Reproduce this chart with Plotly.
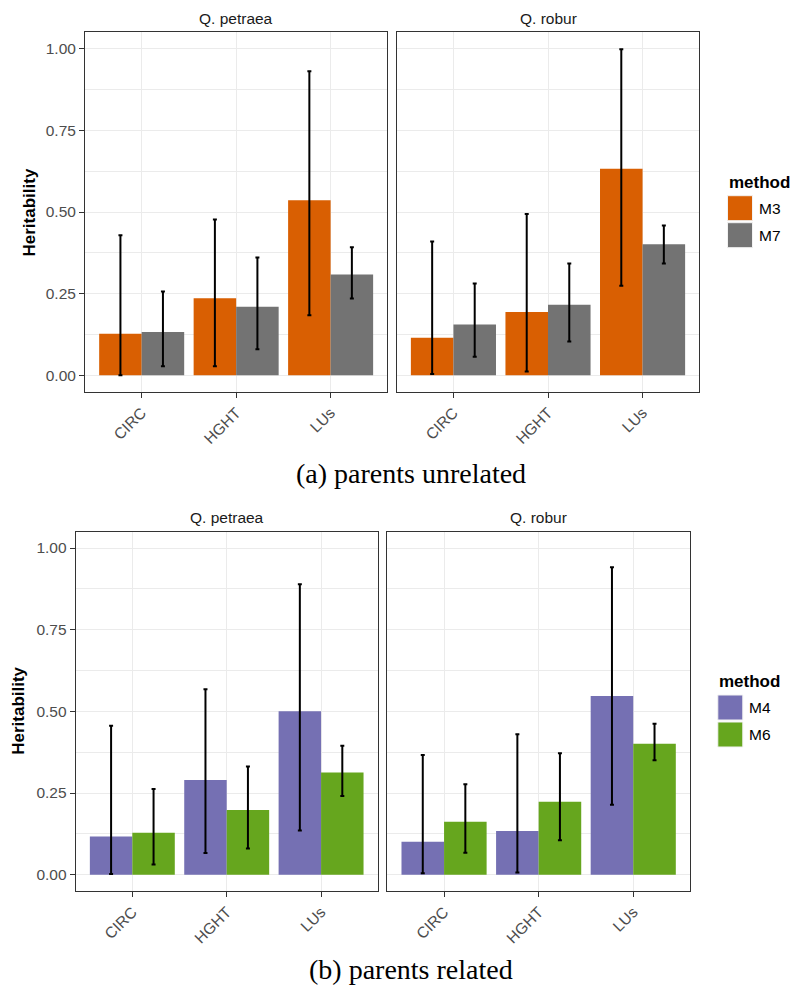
import plotly.graph_objects as go

W, H = 800, 999

categories = ["CIRC", "HGHT", "LUs"]
species = ["Q. petraea", "Q. robur"]
y_ticks = [0.0, 0.25, 0.5, 0.75, 1.0]
y_tick_labels = ["0.00", "0.25", "0.50", "0.75", "1.00"]

# (a) parents unrelated: methods M3, M7
methods_a = ["M3", "M7"]
colors_a = ["#D95F02", "#737373"]
a_petraea_M3 = [0.127, 0.236, 0.536]
a_petraea_M3_lo = [0.000, 0.028, 0.184]
a_petraea_M3_hi = [0.429, 0.477, 0.931]
a_petraea_M7 = [0.133, 0.210, 0.309]
a_petraea_M7_lo = [0.028, 0.080, 0.235]
a_petraea_M7_hi = [0.257, 0.361, 0.392]
a_robur_M3 = [0.115, 0.194, 0.632]
a_robur_M3_lo = [0.004, 0.012, 0.274]
a_robur_M3_hi = [0.410, 0.494, 0.998]
a_robur_M7 = [0.156, 0.216, 0.401]
a_robur_M7_lo = [0.057, 0.104, 0.342]
a_robur_M7_hi = [0.281, 0.342, 0.459]

# (b) parents related: methods M4, M6
methods_b = ["M4", "M6"]
colors_b = ["#7570B3", "#66A61E"]
b_petraea_M4 = [0.117, 0.290, 0.500]
b_petraea_M4_lo = [0.002, 0.066, 0.135]
b_petraea_M4_hi = [0.456, 0.568, 0.889]
b_petraea_M6 = [0.128, 0.198, 0.313]
b_petraea_M6_lo = [0.031, 0.080, 0.241]
b_petraea_M6_hi = [0.262, 0.331, 0.395]
b_robur_M4 = [0.101, 0.134, 0.547]
b_robur_M4_lo = [0.004, 0.007, 0.214]
b_robur_M4_hi = [0.366, 0.430, 0.941]
b_robur_M6 = [0.162, 0.223, 0.401]
b_robur_M6_lo = [0.067, 0.105, 0.350]
b_robur_M6_hi = [0.277, 0.372, 0.462]

captions = ["(a) parents unrelated", "(b) parents related"]


def fx(x):
    return x / W


def fy(y):
    return 1 - y / H


# panels: (x0, x1, y_top, y_bottom) in px
panels = {
    1: (85.0, 387.3, 32.3, 391.7),
    2: (396.7, 699.3, 32.3, 391.7),
    3: (75.7, 377.7, 531.7, 891.0),
    4: (387.3, 690.0, 531.7, 891.0),
}

panel_data = {
    1: [(methods_a[0], colors_a[0], a_petraea_M3, a_petraea_M3_lo, a_petraea_M3_hi),
        (methods_a[1], colors_a[1], a_petraea_M7, a_petraea_M7_lo, a_petraea_M7_hi)],
    2: [(methods_a[0], colors_a[0], a_robur_M3, a_robur_M3_lo, a_robur_M3_hi),
        (methods_a[1], colors_a[1], a_robur_M7, a_robur_M7_lo, a_robur_M7_hi)],
    3: [(methods_b[0], colors_b[0], b_petraea_M4, b_petraea_M4_lo, b_petraea_M4_hi),
        (methods_b[1], colors_b[1], b_petraea_M6, b_petraea_M6_lo, b_petraea_M6_hi)],
    4: [(methods_b[0], colors_b[0], b_robur_M4, b_robur_M4_lo, b_robur_M4_hi),
        (methods_b[1], colors_b[1], b_robur_M6, b_robur_M6_lo, b_robur_M6_hi)],
}

fig = go.Figure()
for k, series in panel_data.items():
    xa = "x" if k == 1 else f"x{k}"
    ya = "y" if k == 1 else f"y{k}"
    for i, (name, color, vals, lo, hi) in enumerate(series):
        fig.add_trace(go.Bar(
            x=categories, y=vals, name=name, marker=dict(color=color, line=dict(width=0)),
            offsetgroup=str(i),
            error_y=dict(type="data", symmetric=False,
                         array=[h - v for h, v in zip(hi, vals)],
                         arrayminus=[v - l for v, l in zip(vals, lo)],
                         color="black", thickness=2, width=2),
            xaxis=xa, yaxis=ya, showlegend=False,
        ))

tick_font = dict(family="Liberation Sans, Arial, sans-serif", size=15.5, color="#4D4D4D")
layout = dict(
    width=W, height=H, margin=dict(l=0, r=0, t=0, b=0),
    paper_bgcolor="white", plot_bgcolor="white",
    barmode="group", bargap=0.1, bargroupgap=0.0,
    font=dict(family="Liberation Sans, Arial, sans-serif"),
    showlegend=False,
)
for k, (x0, x1, y0, y1) in panels.items():
    xk = "xaxis" if k == 1 else f"xaxis{k}"
    yk = "yaxis" if k == 1 else f"yaxis{k}"
    ya_anchor = "y" if k == 1 else f"y{k}"
    xa_anchor = "x" if k == 1 else f"x{k}"
    left = k in (1, 3)
    layout[xk] = dict(
        domain=[fx(x0), fx(x1)], anchor=ya_anchor, type="category",
        categoryorder="array", categoryarray=categories, range=[-0.6, 2.6],
        showgrid=True, gridcolor="#EBEBEB", gridwidth=1,
        showline=True, linecolor="#333333", linewidth=1, mirror=True,
        ticks="outside", ticklen=5, tickcolor="#333333", tickwidth=1,
        tickangle=-45, tickfont=tick_font, zeroline=False,
    )
    layout[yk] = dict(
        domain=[fy(y1), fy(y0)], anchor=xa_anchor, range=[-0.05, 1.05],
        tickmode="array", tickvals=y_ticks, ticktext=y_tick_labels,
        showgrid=True, gridcolor="#EBEBEB", gridwidth=1,
        minor=dict(tickmode="array", tickvals=[0.125, 0.375, 0.625, 0.875],
                   showgrid=True, gridcolor="#EBEBEB", gridwidth=0.6, ticks=""),
        showline=True, linecolor="#333333", linewidth=1, mirror=True,
        ticks="outside" if left else "", ticklen=5, tickcolor="#333333", tickwidth=1,
        showticklabels=left, tickfont=tick_font, zeroline=False,
    )

fig.update_layout(**layout)

annotations = []
shapes = []
strip_font = dict(family="Liberation Sans, Arial, sans-serif", size=15.5, color="#1A1A1A")
strip_y = {1: 18.5, 2: 18.5, 3: 517.5, 4: 517.5}
for k, (x0, x1, y0, y1) in panels.items():
    annotations.append(dict(
        x=fx((x0 + x1) / 2), y=fy(strip_y[k]), xref="paper", yref="paper",
        text=species[(k - 1) % 2], showarrow=False, font=strip_font,
        xanchor="center", yanchor="middle"))

title_font = dict(family="Liberation Sans, Arial, sans-serif", size=17, color="black", weight="bold")
for xc, yc in [(28.5, 212.0), (18.5, 711.3)]:
    annotations.append(dict(
        x=fx(xc), y=fy(yc), xref="paper", yref="paper", text="Heritability",
        textangle=-90, showarrow=False, font=title_font,
        xanchor="center", yanchor="middle"))

# legends (drawn from method/colour lists)
legends = [
    (methods_a, colors_a, 727.5, 183.0, 195.7),
    (methods_b, colors_b, 717.8, 681.7, 695.0),
]
for meths, cols, lx, ty, ky in legends:
    annotations.append(dict(
        x=fx(lx - 1), y=fy(ty), xref="paper", yref="paper", text="method",
        showarrow=False, font=title_font, xanchor="left", yanchor="middle"))
    for i, (m, c) in enumerate(zip(meths, cols)):
        top = ky + i * 27
        shapes.append(dict(
            type="rect", xref="paper", yref="paper",
            x0=fx(lx), x1=fx(lx + 25), y0=fy(top + 25), y1=fy(top),
            fillcolor=c, line=dict(color="#F2F2F2", width=1)))
        annotations.append(dict(
            x=fx(lx + 29), y=fy(top + 12.5), xref="paper", yref="paper", text=m,
            showarrow=False, font=dict(family="Liberation Sans, Arial, sans-serif", size=15.5, color="black"),
            xanchor="left", yanchor="middle"))

cap_font = dict(family="Liberation Serif, Times New Roman, serif", size=28, color="black")
for cap, yc in zip(captions, [474.0, 969.0]):
    annotations.append(dict(
        x=fx(411), y=fy(yc), xref="paper", yref="paper", text=cap,
        showarrow=False, font=cap_font, xanchor="center", yanchor="middle"))

fig.update_layout(annotations=annotations, shapes=shapes)
fig.write_html("out.html", config={"displayModeBar": False},
               post_script="document.body.style.margin='0';document.body.style.overflow='hidden';")
